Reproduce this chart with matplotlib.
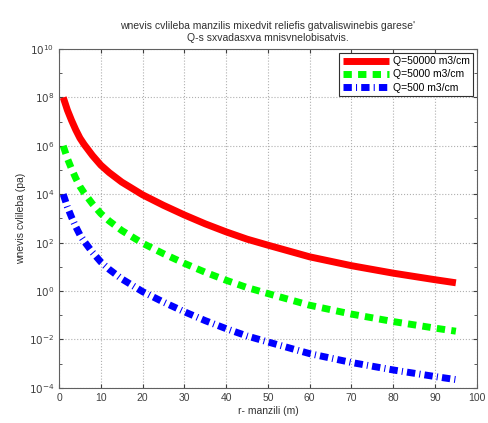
import matplotlib
matplotlib.use("Agg")
import matplotlib.pyplot as plt
from matplotlib.ticker import LogLocator, FixedLocator, NullFormatter

plt.rcParams['font.family'] = ['Liberation Sans', 'DejaVu Sans']

# distance r (m) and pressure (pa)
r = [1, 1.5, 2, 3, 4, 5, 6, 8, 10, 12, 15, 20, 25, 30, 35, 40, 45, 50,
     60, 70, 80, 90, 95]
p_50000 = [1.0e8, 5.5e7, 3.0e7, 1.12e7, 4.6e6, 2.1e6, 1.15e6, 4.0e5, 1.6e5,
           7.9e4, 3.2e4, 9.5e3, 3.5e3, 1.4e3, 600, 280, 140, 79,
           26, 11.2, 5.5, 2.95, 2.2]
p_5000 = [1.0e6, 5.5e5, 3.0e5, 1.12e5, 4.6e4, 2.1e4, 1.15e4, 4.0e3, 1.6e3,
          790, 320, 95, 35, 14, 6.0, 2.8, 1.4, 0.79,
          0.26, 0.112, 0.055, 0.0295, 0.022]
p_500 = [1.0e4, 5.5e3, 3.0e3, 1.12e3, 460, 210, 115, 40, 16,
         7.9, 3.2, 0.95, 0.35, 0.14, 0.06, 0.028, 0.014, 0.0079,
         0.0026, 0.00112, 0.00055, 0.000295, 0.00022]
labels = ["Q=50000 m3/cm", "Q=5000 m3/cm", "Q=500 m3/cm"]

fig = plt.figure(figsize=(4.88, 4.23), dpi=100)
ax = fig.add_axes([0.121, 0.083, 0.856, 0.801])

ax.semilogy(r, p_50000, color="#ff0000", lw=5, solid_capstyle="butt", label=labels[0])
ax.semilogy(r, p_5000, color="#00ff00", lw=5, linestyle=(0, (1.2, 0.9)),
            dash_capstyle="butt", label=labels[1])
ax.semilogy(r, p_500, color="#0000ff", lw=5, linestyle=(0, (1.2, 0.6, 0.15, 0.6)),
            dash_capstyle="butt", label=labels[2])

ax.set_xlim(0, 100)
ax.set_ylim(1e-4, 1e10)
ax.xaxis.set_major_locator(FixedLocator(range(0, 101, 10)))
ax.yaxis.set_major_locator(FixedLocator([10.0 ** k for k in range(-4, 11, 2)]))
ax.yaxis.set_minor_locator(LogLocator(base=10, subs=(1.0,), numticks=20))
ax.yaxis.set_minor_formatter(NullFormatter())
ax.set_yticklabels([r"$10^{%d}$" % k for k in range(-4, 11, 2)])

ax.grid(True, which="major", linestyle=":", color="#b0b0b0", lw=0.8)
ax.tick_params(which="both", direction="in", top=True, right=True,
               labelsize=7.5, colors="#404040", length=3)
ax.tick_params(which="minor", length=2)
for s in ax.spines.values():
    s.set_color("#606060")

ax.set_xlabel("r- manzili (m)", fontsize=7.5, color="#303030", labelpad=2)
ax.set_ylabel("wnevis cvlileba (pa)", fontsize=7.5, color="#303030", labelpad=2)
ax.set_title("wnevis cvlileba manzilis mixedvit reliefis gatvaliswinebis garese'\n"
             "Q-s sxvadasxva mnisvnelobisatvis.", fontsize=7.5, color="#303030", pad=6)

leg = ax.legend(loc="upper right", fontsize=7.5, handlelength=4.5, borderaxespad=0.4,
                fancybox=False, framealpha=1, edgecolor="#303030",
                borderpad=0.3, labelspacing=0.3, handletextpad=0.3)
leg.get_frame().set_linewidth(0.8)

fig.savefig("out.png", dpi=100)
